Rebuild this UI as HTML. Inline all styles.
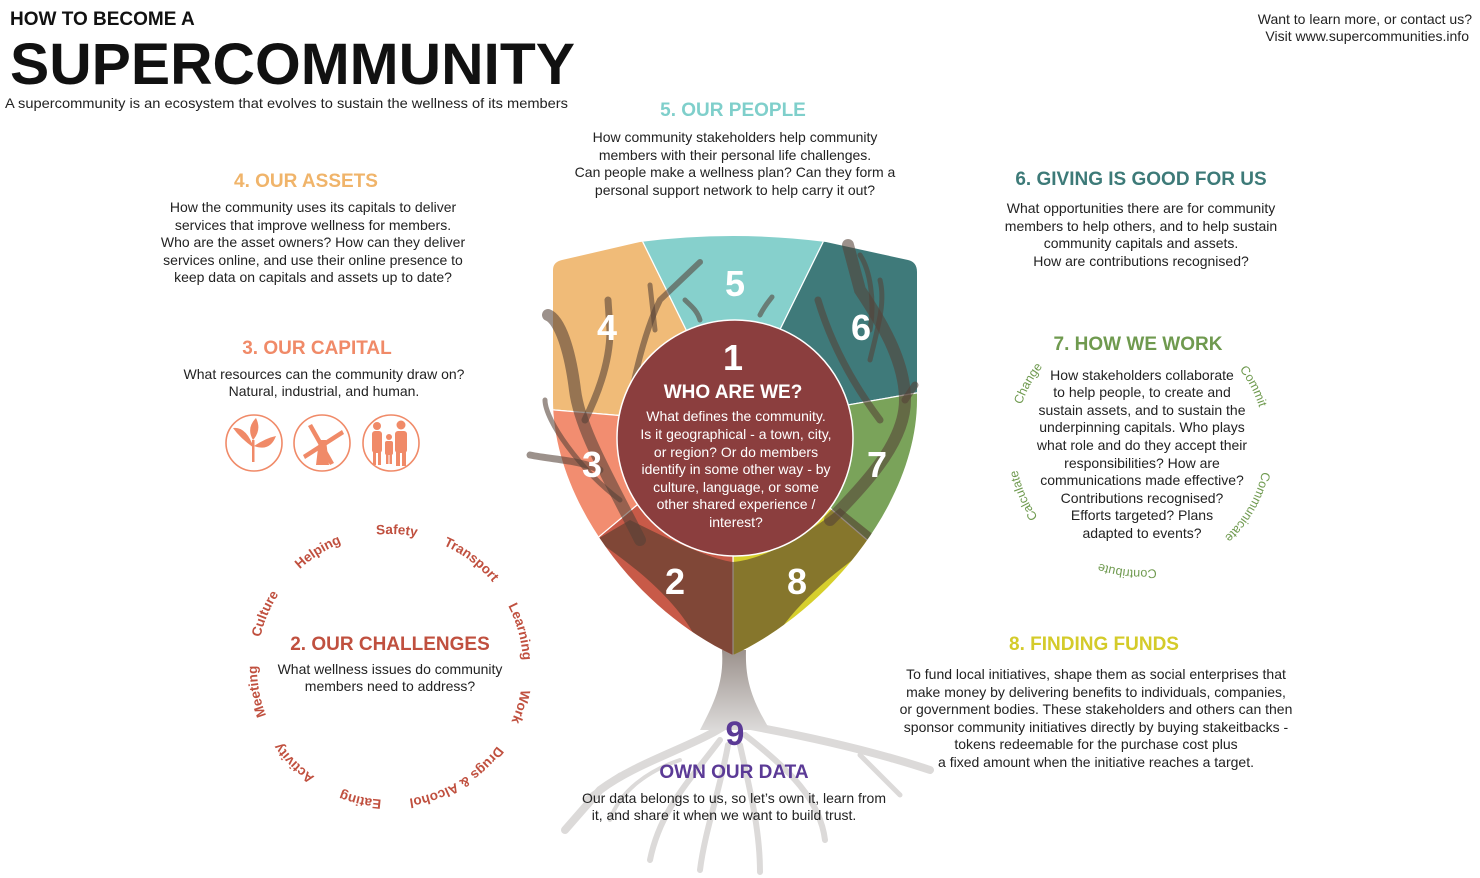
<!DOCTYPE html>
<html><head><meta charset="utf-8"><style>
html,body{margin:0;padding:0;background:#fff;}
svg{display:block;font-family:"Liberation Sans",sans-serif;}
.b{font-size:14px;fill:#222;text-anchor:middle;}
.h{font-size:19px;font-weight:bold;text-anchor:middle;}
.n{font-size:36px;font-weight:bold;fill:#fff;text-anchor:middle;}
.ch{font-size:13.5px;font-weight:bold;fill:#c0503f;}
.gw{font-size:12.5px;fill:#6f9a4f;}
</style></head><body>
<svg width="1480" height="878" viewBox="0 0 1480 878" xmlns="http://www.w3.org/2000/svg">
<defs>
<clipPath id="sh"><path d="M553,270 Q553,262 562,260 L640,242 Q733,230 826,242 L908,260 Q917,262 917,272 L917,400 C917,500 830,610 733,655 C636,610 553,500 553,400 Z"/></clipPath>
<linearGradient id="tr" x1="0" y1="0" x2="0" y2="1"><stop offset="0" stop-color="#9c928d"/><stop offset="1" stop-color="#dcdad9"/></linearGradient>
<path id="c2" d="M390,800 A133,133 0 1,1 390.01,800"/>
<path id="c7" d="M1140,320 A125,125 0 1,1 1139.99,320"/>
</defs>

<!-- header -->
<text x="10" y="25" font-size="19" font-weight="bold" fill="#111">HOW TO BECOME A</text>
<text x="10" y="84" font-size="58" font-weight="bold" fill="#111" textLength="565" lengthAdjust="spacingAndGlyphs">SUPERCOMMUNITY</text>
<text x="5" y="108" font-size="14" fill="#222" textLength="563" lengthAdjust="spacingAndGlyphs">A supercommunity is an ecosystem that evolves to sustain the wellness of its members</text>
<text x="1472" y="24" font-size="14" fill="#222" text-anchor="end">Want to learn more, or contact us?</text>
<text x="1469" y="41" font-size="14" fill="#222" text-anchor="end">Visit www.supercommunities.info</text>

<!-- 5 -->
<text class="h" x="733" y="116" fill="#7fcfcb">5. OUR PEOPLE</text>
<text class="b" x="735" y="142">How community stakeholders help community</text>
<text class="b" x="735" y="160">members with their personal life challenges.</text>
<text class="b" x="735" y="177">Can people make a wellness plan? Can they form a</text>
<text class="b" x="735" y="195">personal support network to help carry it out?</text>

<!-- 4 -->
<text class="h" x="306" y="187" fill="#f0b46a">4. OUR ASSETS</text>
<text class="b" x="313" y="212">How the community uses its capitals to deliver</text>
<text class="b" x="313" y="230">services that improve wellness for members.</text>
<text class="b" x="313" y="247">Who are the asset owners? How can they deliver</text>
<text class="b" x="313" y="265">services online, and use their online presence to</text>
<text class="b" x="313" y="282">keep data on capitals and assets up to date?</text>

<!-- 3 -->
<text class="h" x="317" y="354" fill="#f08a68">3. OUR CAPITAL</text>
<text class="b" x="324" y="379">What resources can the community draw on?</text>
<text class="b" x="324" y="396">Natural, industrial, and human.</text>
<g stroke="#f08a68" stroke-width="1.6" fill="none">
<circle cx="254" cy="443" r="28"/><circle cx="322" cy="443" r="28"/><circle cx="391" cy="443" r="28"/>
</g>
<g fill="#f08a68">
<path d="M254,448 Q240,438 233,428 Q246,426 254,448 Z"/>
<path d="M254,446 Q266,438 276,436 Q270,452 254,446 Z"/>
<path d="M253,440 Q246,428 256,418 Q262,430 253,440 Z"/>
<rect x="252" y="440" width="2.5" height="22"/>
<path d="M316,465 L319,440 L326,440 L329,465 Z"/>
<path d="M303,455 L342,430 L344,434 L305,459 Z"/>
<path d="M312,424 L334,463 L330,465 L308,426 Z"/>
<circle cx="377" cy="426" r="4"/><rect x="372" y="431" width="10" height="22" rx="3"/><rect x="373" y="450" width="3" height="15"/><rect x="378" y="450" width="3" height="15"/>
<circle cx="401" cy="425" r="4.5"/><rect x="395" y="431" width="12" height="22" rx="3"/><rect x="396" y="450" width="4" height="16"/><rect x="402" y="450" width="4" height="16"/>
<circle cx="389" cy="437" r="3"/><rect x="385" y="441" width="8" height="14" rx="2"/><rect x="386" y="452" width="2.5" height="12"/><rect x="389.5" y="452" width="2.5" height="12"/>
</g>

<!-- 6 -->
<text class="h" x="1141" y="185" fill="#3d7a78">6. GIVING IS GOOD FOR US</text>
<text class="b" x="1141" y="213">What opportunities there are for community</text>
<text class="b" x="1141" y="231">members to help others, and to help sustain</text>
<text class="b" x="1141" y="248">community capitals and assets.</text>
<text class="b" x="1141" y="266">How are contributions recognised?</text>

<!-- 7 -->
<text class="h" x="1138" y="350" fill="#6f9a4f">7. HOW WE WORK</text>
<text class="b" x="1142" y="380">How stakeholders collaborate</text>
<text class="b" x="1142" y="397">to help people, to create and</text>
<text class="b" x="1142" y="415">sustain assets, and to sustain the</text>
<text class="b" x="1142" y="432">underpinning capitals. Who plays</text>
<text class="b" x="1142" y="450">what role and do they accept their</text>
<text class="b" x="1142" y="468">responsibilities? How are</text>
<text class="b" x="1142" y="485">communications made effective?</text>
<text class="b" x="1142" y="503">Contributions recognised?</text>
<text class="b" x="1142" y="520">Efforts targeted? Plans</text>
<text class="b" x="1142" y="538">adapted to events?</text>
<g text-anchor="middle">
<text class="gw"><textPath href="#c7" startOffset="83%">Change</textPath></text>
<text class="gw"><textPath href="#c7" startOffset="17.4%">Commit</textPath></text>
<text class="gw"><textPath href="#c7" startOffset="33.3%">Communicate</textPath></text>
<text class="gw"><textPath href="#c7" startOffset="51.6%">Contribute</textPath></text>
<text class="gw"><textPath href="#c7" startOffset="68.5%">Calculate</textPath></text>
</g>

<!-- 2 -->
<text class="h" x="390" y="650" fill="#c0503f">2. OUR CHALLENGES</text>
<text class="b" x="390" y="674">What wellness issues do community</text>
<text class="b" x="390" y="691">members need to address?</text>
<g text-anchor="middle">
<text class="ch"><textPath href="#c2" startOffset="50.8%">Safety</textPath></text>
<text class="ch"><textPath href="#c2" startOffset="60.3%">Transport</textPath></text>
<text class="ch"><textPath href="#c2" startOffset="70.8%">Learning</textPath></text>
<text class="ch"><textPath href="#c2" startOffset="79.7%">Work</textPath></text>
<text class="ch"><textPath href="#c2" startOffset="91.4%">Drugs &amp; Alcohol</textPath></text>
<text class="ch"><textPath href="#c2" startOffset="3.5%">Eating</textPath></text>
<text class="ch"><textPath href="#c2" startOffset="12.5%">Activity</textPath></text>
<text class="ch"><textPath href="#c2" startOffset="22.1%">Meeting</textPath></text>
<text class="ch"><textPath href="#c2" startOffset="31.4%">Culture</textPath></text>
<text class="ch"><textPath href="#c2" startOffset="41.1%">Helping</textPath></text>
</g>

<!-- 8 -->
<text class="h" x="1094" y="650" fill="#d4cb2a">8. FINDING FUNDS</text>
<text class="b" x="1096" y="679">To fund local initiatives, shape them as social enterprises that</text>
<text class="b" x="1096" y="697">make money by delivering benefits to individuals, companies,</text>
<text class="b" x="1096" y="714">or government bodies. These stakeholders and others can then</text>
<text class="b" x="1096" y="732">sponsor community initiatives directly by buying stakeitbacks -</text>
<text class="b" x="1096" y="749">tokens redeemable for the purchase cost plus</text>
<text class="b" x="1096" y="767">a fixed amount when the initiative reaches a target.</text>

<!-- roots -->
<g stroke="#dcdad9" fill="none" stroke-linecap="round">
<path d="M733,720 C700,745 640,760 600,790 L565,830" stroke-width="8"/>
<path d="M620,775 L585,800" stroke-width="5"/>
<path d="M720,740 C690,780 660,810 650,860" stroke-width="6"/>
<path d="M728,745 C720,790 705,830 700,870" stroke-width="6"/>
<path d="M740,745 C750,790 760,830 760,872" stroke-width="6"/>
<path d="M745,735 C790,770 820,800 825,840" stroke-width="6"/>
<path d="M745,725 C800,735 870,750 930,770" stroke-width="8"/>
<path d="M860,755 L900,795" stroke-width="5"/>
<path d="M680,760 C650,770 620,790 610,820" stroke-width="4"/>
</g>
<path d="M722,650 C724,680 716,700 700,730 L770,730 C752,700 745,680 746,650 Z" fill="url(#tr)"/>

<!-- shield -->
<g clip-path="url(#sh)" stroke="#fff" stroke-width="1.2">
<polygon points="733,425 600,155 400,155 400,397" fill="#f0bb78"/>
<polygon points="733,425 600,155 866,155" fill="#86d0cc"/>
<polygon points="733,425 866,155 1100,155 1100,361" fill="#3f7a7a"/>
<polygon points="733,425 1100,361 1100,665 1013,665" fill="#7aa35a"/>
<polygon points="733,425 1013,665 1013,900 733,900" fill="#d6cf2c"/>
<polygon points="733,425 733,900 457,900 457,655" fill="#c85a48"/>
<polygon points="733,425 457,655 400,655 400,397" fill="#f28d70"/>
<path d="M705,660 C690,610 640,570 596,540 L630,520 C680,545 715,560 733,562 C760,560 800,540 840,508 L880,540 C830,575 780,615 765,660 Z" fill="rgba(80,58,45,0.6)" stroke="none"/>
</g>
<g fill="none" stroke="rgba(85,65,55,0.58)" stroke-linecap="round">
<path d="M640,540 C610,480 580,430 575,390 C570,350 560,320 548,315" stroke-width="12"/>
<path d="M600,470 C580,460 555,460 530,455" stroke-width="7"/>
<path d="M620,500 C580,470 545,420 545,400" stroke-width="5"/>
<path d="M585,420 C600,390 610,360 610,330 L608,300" stroke-width="7"/>
<path d="M630,400 C640,350 650,320 660,300 L700,262" stroke-width="6"/>
<path d="M655,330 L650,285" stroke-width="5"/>
<path d="M700,320 C697,310 690,305 685,300" stroke-width="5"/>
<path d="M760,315 C765,305 770,300 772,297" stroke-width="5"/>
<path d="M830,520 C870,480 905,440 905,400 C905,360 880,320 860,290 L848,245" stroke-width="12"/>
<path d="M880,420 C850,380 830,340 818,300" stroke-width="7"/>
<path d="M870,360 C880,320 885,300 880,280" stroke-width="5"/>
<path d="M905,400 L915,385" stroke-width="7"/>
<path d="M870,330 C875,300 870,270 860,255" stroke-width="5"/>
</g>

<!-- numbers -->
<text class="n" x="607" y="340">4</text>
<text class="n" x="735" y="296">5</text>
<text class="n" x="861" y="340">6</text>
<text class="n" x="592" y="477">3</text>
<text class="n" x="877" y="477">7</text>
<text class="n" x="675" y="594">2</text>
<text class="n" x="797" y="594">8</text>

<!-- center -->
<circle cx="735" cy="438" r="118" fill="#8b3e3e" stroke="#fff" stroke-width="1.5"/>
<text class="n" x="733" y="370" font-size="36">1</text>
<text x="733" y="398" font-size="19" font-weight="bold" fill="#fff" text-anchor="middle">WHO ARE WE?</text>
<g font-size="14" fill="#fff" text-anchor="middle">
<text x="736" y="421">What defines the community.</text>
<text x="736" y="439">Is it geographical - a town, city,</text>
<text x="736" y="457">or region? Or do members</text>
<text x="736" y="474">identify in some other way - by</text>
<text x="736" y="492">culture, language, or some</text>
<text x="736" y="509">other shared experience /</text>
<text x="736" y="527">interest?</text>
</g>

<!-- 9 -->
<text x="735" y="745" font-size="34" font-weight="bold" fill="#5b3a96" text-anchor="middle">9</text>
<text class="h" x="734" y="778" fill="#5b3a96">OWN OUR DATA</text>
<text class="b" x="734" y="803">Our data belongs to us, so let’s own it, learn from</text>
<text class="b" x="724" y="820">it, and share it when we want to build trust.</text>
</svg>
</body></html>
